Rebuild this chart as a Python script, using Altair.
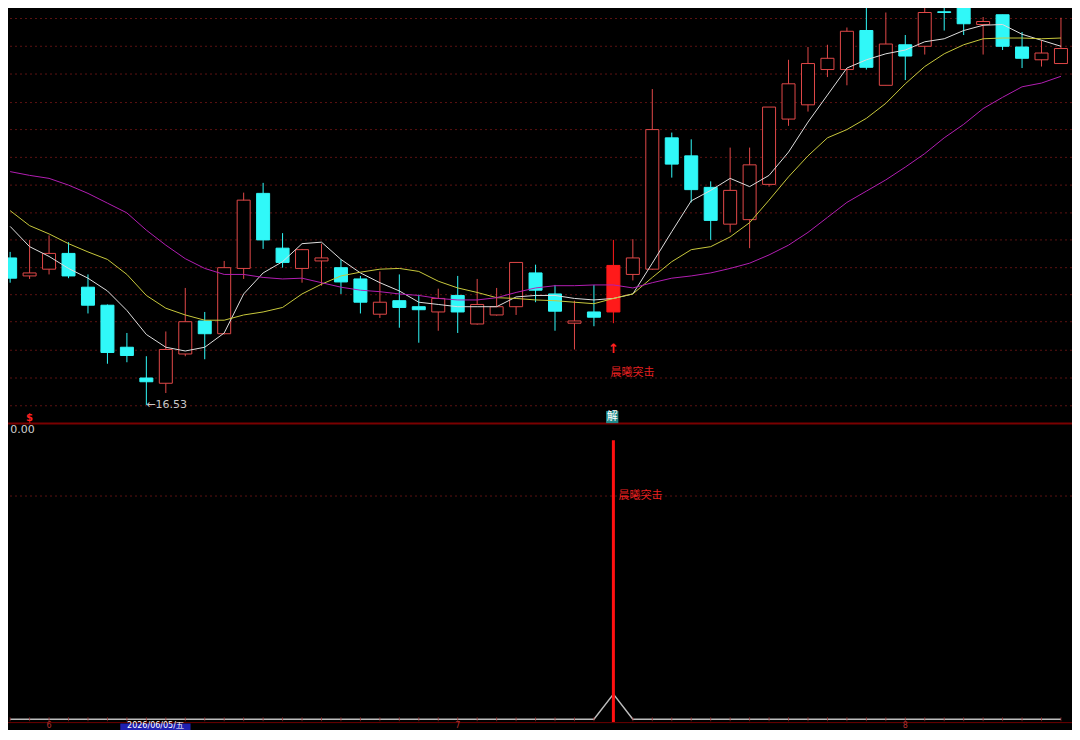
import altair as alt
import pandas as pd
import numpy as np

# ---------------- data ----------------
idx = list(range(55))
opens = [18.49, 18.25, 18.34, 18.55, 18.10, 17.86, 17.30, 16.89, 16.82, 17.21,
         17.65, 17.48, 18.35, 19.35, 18.62, 18.35, 18.45, 18.36, 18.21, 17.74,
         17.92, 17.84, 17.77, 17.99, 17.61, 17.73, 17.84, 18.29, 18.01, 17.62,
         17.77, 17.77, 18.27, 18.34, 20.09, 19.85, 19.43, 18.94, 19.00, 19.47,
         20.34, 20.53, 21.00, 21.00, 21.52, 20.79, 21.33, 21.31, 21.77, 21.95,
         21.60, 21.73, 21.30, 21.13, 21.08]
closes = [18.22, 18.29, 18.55, 18.25, 17.86, 17.23, 17.19, 16.84, 17.27, 17.64,
          17.48, 18.36, 19.26, 18.73, 18.43, 18.60, 18.49, 18.17, 17.90, 17.90,
          17.83, 17.80, 17.95, 17.77, 17.87, 17.84, 18.43, 18.06, 17.78, 17.65,
          17.70, 18.39, 18.49, 20.20, 19.74, 19.40, 18.99, 19.39, 19.73, 20.50,
          20.81, 21.08, 21.15, 21.51, 21.03, 21.34, 21.18, 21.76, 21.76, 21.61,
          21.64, 21.31, 21.15, 21.22, 21.28]
highs = [18.57, 18.73, 18.79, 18.70, 18.27, 17.87, 17.49, 17.18, 17.51, 18.09,
         17.77, 18.45, 19.36, 19.49, 18.82, 18.61, 18.68, 18.47, 18.25, 18.31,
         18.27, 18.00, 18.08, 18.25, 18.21, 18.09, 18.43, 18.40, 18.13, 17.92,
         18.13, 18.73, 18.74, 20.74, 20.16, 20.07, 19.51, 19.96, 19.96, 20.50,
         21.13, 21.30, 21.33, 21.56, 21.93, 21.76, 21.46, 21.86, 21.89, 22.00,
         21.70, 21.73, 21.50, 21.39, 21.69]
lows = [18.16, 18.21, 18.27, 18.22, 17.75, 17.08, 17.10, 16.53, 16.69, 17.18,
        17.14, 17.47, 18.21, 18.61, 18.36, 18.16, 18.12, 18.01, 17.75, 17.69,
        17.56, 17.36, 17.52, 17.49, 17.60, 17.72, 17.73, 17.90, 17.52, 17.27,
        17.58, 17.62, 18.19, 18.33, 19.56, 19.23, 18.73, 18.83, 18.62, 19.44,
        20.25, 20.44, 20.90, 20.79, 21.00, 20.79, 20.86, 21.20, 21.52, 21.46,
        21.20, 21.26, 21.02, 21.04, 21.08]
ma5 = [18.91, 18.64, 18.51, 18.35, 18.22, 18.05, 17.79, 17.47, 17.30, 17.25,
       17.30, 17.49, 18.01, 18.29, 18.44, 18.68, 18.70, 18.47, 18.29, 18.16,
       18.05, 17.90, 17.87, 17.84, 17.84, 17.84, 17.97, 17.99, 17.99, 17.95,
       17.93, 17.95, 18.01, 18.42, 18.84, 19.25, 19.39, 19.55, 19.44, 19.59,
       19.90, 20.30, 20.66, 21.02, 21.13, 21.21, 21.26, 21.37, 21.41, 21.52,
       21.59, 21.60, 21.47, 21.39, 21.31]
ma10 = [19.12, 18.92, 18.81, 18.68, 18.57, 18.47, 18.27, 17.99, 17.82, 17.73,
        17.66, 17.66, 17.73, 17.77, 17.83, 18.01, 18.14, 18.25, 18.30, 18.34,
        18.35, 18.31, 18.18, 18.09, 18.03, 17.96, 17.95, 17.93, 17.92, 17.90,
        17.88, 17.95, 18.01, 18.23, 18.44, 18.60, 18.64, 18.77, 18.96, 19.26,
        19.57, 19.85, 20.09, 20.20, 20.35, 20.55, 20.81, 21.04, 21.21, 21.33,
        21.41, 21.42, 21.42, 21.41, 21.42]
ma20 = [19.64, 19.59, 19.55, 19.46, 19.35, 19.22, 19.09, 18.86, 18.66, 18.48,
        18.35, 18.27, 18.27, 18.23, 18.21, 18.22, 18.16, 18.10, 18.06, 18.04,
        18.01, 17.99, 17.95, 17.93, 17.93, 17.96, 18.03, 18.09, 18.12, 18.12,
        18.13, 18.13, 18.09, 18.16, 18.22, 18.25, 18.29, 18.35, 18.42, 18.53,
        18.66, 18.83, 19.03, 19.23, 19.38, 19.53, 19.70, 19.88, 20.09, 20.27,
        20.48, 20.63, 20.77, 20.82, 20.91]
signal_bar = 31
# lower indicator: signal curve
sub_vals = [0, 0, 0, 0, 0, 0, 0, 0, 0, 0, 0, 0, 0, 0, 0, 0, 0, 0, 0, 0,
            0, 0, 0, 0, 0, 0, 0, 0, 0, 0, 0, 9, 0, 0, 0, 0, 0, 0, 0, 0,
            0, 0, 0, 0, 0, 0, 0, 0, 0, 0, 0, 0, 0, 0, 0]
stick_value = 100
grid_prices = [16.52, 16.89, 17.26, 17.64, 18.00, 18.36, 18.73, 19.09,
               19.46, 19.83, 20.20, 20.56, 20.94, 21.31, 21.68]
panel_split_price = 16.283
sub_grid = [80]
month_labels = ["6", "7", "8"]
month_pos = [2, 23, 46]
date_label = "2026/06/05/五"

# ---------------- frames ----------------
df = pd.DataFrame({"i": idx, "open": opens, "high": highs, "low": lows,
                   "close": closes, "ma5": ma5, "ma10": ma10, "ma20": ma20,
                   "sub": sub_vals})
UP, DOWN, SIG = "#e04848", "#30f8f8", "#ff1a1a"
kind = np.where(df["close"] >= df["open"], "up", "down").astype(object)
kind[signal_bar] = "sig"
df["fillc"] = [{"up": "#000000", "down": DOWN, "sig": SIG}[k] for k in kind]
df["strokec"] = [{"up": UP, "down": DOWN, "sig": SIG}[k] for k in kind]

xs = alt.Scale(domain=[0.147, 54.31], nice=False, zero=False)
ys_top = alt.Scale(domain=[12.20, 21.82], nice=False, zero=False)
ys_bot = alt.Scale(domain=[-3.85, 254.9], nice=False, zero=False)
X = alt.X("i:Q", scale=xs, axis=None)

def YT(f):
    return alt.Y(f, scale=ys_top, axis=None)

def YB(f):
    return alt.Y(f, scale=ys_bot, axis=None)

base = alt.Chart(df)

# ---------------- top panel ----------------
grid_top = alt.Chart(pd.DataFrame({"p": grid_prices})).mark_rule(
    color="#5c1212", strokeDash=[2, 3], strokeWidth=1).encode(y=YT("p:Q"))
sep = alt.Chart(pd.DataFrame({"p": [panel_split_price]})).mark_rule(
    color="#7a0000", strokeWidth=2).encode(y=YT("p:Q"))
wick = base.mark_rule(strokeWidth=1, clip=True).encode(
    X, y=YT("low:Q"), y2="high:Q", color=alt.Color("strokec:N", scale=None))
body = base.mark_bar(width=13, strokeWidth=1, clip=True).encode(
    X, y=YT("open:Q"), y2="close:Q",
    fill=alt.Fill("fillc:N", scale=None),
    stroke=alt.Stroke("strokec:N", scale=None))
l5 = base.mark_line(color="#dedede", strokeWidth=1, clip=True).encode(X, y=YT("ma5:Q"))
l10 = base.mark_line(color="#c8c83c", strokeWidth=1, clip=True).encode(X, y=YT("ma10:Q"))
l20 = base.mark_line(color="#b21eb2", strokeWidth=1, clip=True).encode(X, y=YT("ma20:Q"))

low_lbl = alt.Chart(pd.DataFrame({"i": [7], "p": [16.53], "t": ["←16.53"]})).mark_text(
    align="left", baseline="middle", color="#c8c8c8", fontSize=11,
    font="DejaVu Sans").encode(X, y=YT("p:Q"), text="t:N")
dollar = alt.Chart(pd.DataFrame({"i": [1], "p": [16.36], "t": ["$"]})).mark_text(
    align="center", baseline="middle", color="#ff2020", fontSize=10,
    fontWeight="bold", font="DejaVu Sans").encode(X, y=YT("p:Q"), text="t:N")
arrow = alt.Chart(pd.DataFrame({"i": [31], "p": [17.27], "t": ["↑"]})).mark_text(
    align="center", baseline="middle", color="#ff2020", fontSize=13,
    fontWeight="bold", font="DejaVu Sans").encode(X, y=YT("p:Q"), text="t:N")
sig_txt = alt.Chart(pd.DataFrame({"i": [31], "p": [16.96], "t": ["晨曦突击"]})).mark_text(
    align="left", baseline="middle", dx=-3, color="#e82020", fontSize=11,
    font="Noto Sans CJK SC").encode(X, y=YT("p:Q"), text="t:N")
jie_df = pd.DataFrame({"i": [30.94], "p": [16.37], "t": ["解"]})
jie_box = alt.Chart(jie_df).mark_square(size=150, color="#1f8a8a", opacity=1).encode(
    X, y=YT("p:Q"))
jie_txt = alt.Chart(jie_df).mark_text(
    align="center", baseline="middle", color="#ffffff", fontSize=11,
    font="Noto Sans CJK SC").encode(X, y=YT("p:Q"), text="t:N")

top = alt.layer(grid_top, sep, wick, body, l5, l10, l20,
                low_lbl, dollar, arrow, sig_txt, jie_box, jie_txt)

# ---------------- bottom panel ----------------
grid_bot = alt.Chart(pd.DataFrame({"v": sub_grid})).mark_rule(
    color="#5c1212", strokeDash=[2, 3], strokeWidth=1).encode(y=YB("v:Q"))
axis_line = alt.Chart(pd.DataFrame({"v": [-1.2]})).mark_rule(
    color="#6a0000", strokeWidth=1).encode(y=YB("v:Q"))
notches = base.mark_tick(orient="vertical", size=4, thickness=1, color="#9a2a2a").encode(
    X, y=YB("sub:Q"))
sub_line = base.mark_line(color="#bdbdbd", strokeWidth=1.5).encode(X, y=YB("sub:Q"))
stick = alt.Chart(pd.DataFrame({"i": [signal_bar], "lo": [-1.0], "hi": [stick_value]})).mark_rule(
    color="#ff1010", strokeWidth=3).encode(X, y=YB("lo:Q"), y2="hi:Q")
zero_lbl = alt.Chart(pd.DataFrame({"i": [0], "v": [103.5], "t": ["0.00"]})).mark_text(
    align="left", baseline="middle", color="#d0d0d0", fontSize=11,
    font="DejaVu Sans").encode(X, y=YB("v:Q"), text="t:N")
sig_txt2 = alt.Chart(pd.DataFrame({"i": [signal_bar], "v": [80], "t": ["晨曦突击"]})).mark_text(
    align="left", baseline="middle", dx=5, color="#e82020", fontSize=11,
    font="Noto Sans CJK SC").encode(X, y=YB("v:Q"), text="t:N")
months = alt.Chart(pd.DataFrame({"i": month_pos, "v": [-3.75] * 3, "t": month_labels})).mark_text(
    align="center", baseline="bottom", color="#b03030", fontSize=8,
    font="DejaVu Sans").encode(X, y=YB("v:Q"), text="t:N")
date_box = alt.Chart(pd.DataFrame({"i": [5.66], "i2": [9.27], "v": [-1.5], "v2": [-3.85]})).mark_rect(
    color="#2020b0").encode(X, x2="i2:Q", y=YB("v:Q"), y2="v2:Q")
date_txt = alt.Chart(pd.DataFrame({"i": [7.47], "v": [-3.75], "t": [date_label]})).mark_text(
    align="center", baseline="bottom", color="#ffffff", fontSize=8,
    font="DejaVu Sans").encode(X, y=YB("v:Q"), text="t:N")

bottom = alt.layer(grid_bot, axis_line, sub_line, notches, stick, zero_lbl,
                   sig_txt2, date_box, months, date_txt)

chart = alt.layer(top, bottom).resolve_scale(y="independent").properties(
    width=1064, height=722, padding=0,
    autosize=alt.AutoSizeParams(type="none"),
    background="#000000",
).configure_view(stroke=None)

chart.save("out.html", embed_options={"renderer": "svg", "actions": False})
